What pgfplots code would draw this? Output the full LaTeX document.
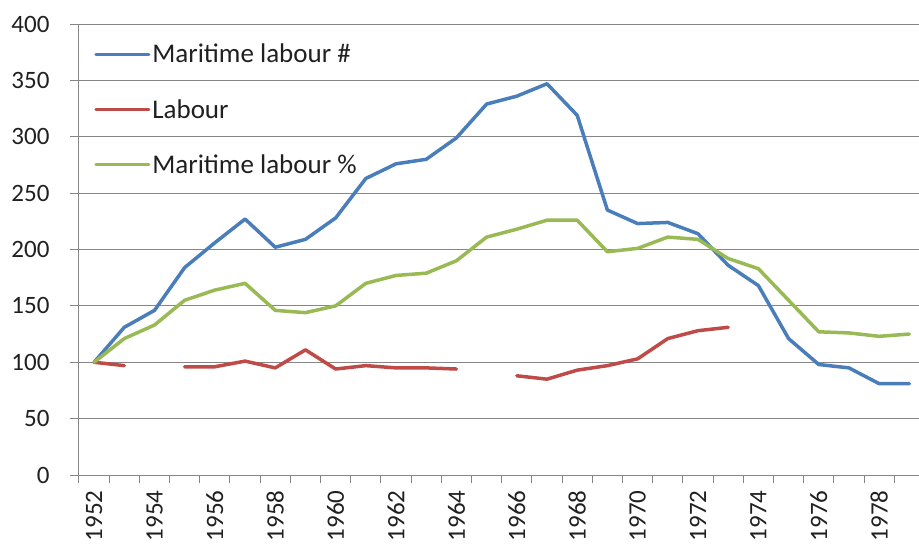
\documentclass[border=0pt]{standalone}
\usepackage{fontspec}
\setmainfont{Carlito}
\usepackage{pgfplots}
\pgfplotsset{compat=1.18}
\definecolor{cblue}{HTML}{4A7EBB}
\definecolor{cred}{HTML}{BE4B48}
\definecolor{cgreen}{HTML}{98B954}
\definecolor{cgrid}{HTML}{868686}
\definecolor{ctext}{HTML}{202020}
\begin{document}
\begin{tikzpicture}
\begin{axis}[
  at={(0,0)}, anchor=south west,
  scale only axis,
  width=840pt, height=451pt,
  xmin=1951.5, xmax=1979.32,
  ymin=0, ymax=400,
  clip=false,
  axis lines=left,
  axis line style={-, cgrid, line width=1pt},
  ytick={0,50,...,400},
  ymajorgrids,
  grid style={cgrid, line width=1pt},
  xtick={1952,1954,...,1978},
  minor xtick={1951.5,1952.5,...,1978.5},
  tick align=outside,
  major tick length=9pt,
  minor tick length=8pt,
  xtick style={draw=none},
  minor x tick style={cgrid, line width=1pt, draw=cgrid},
  ytick style={cgrid, line width=1pt},
  xminorgrids=false,
  /pgf/number format/assume math mode=true,
  /pgf/number format/1000 sep={},
  ticklabel style={font=\fontsize{25}{30}\selectfont, text=ctext},
  xticklabel style={rotate=90, anchor=east, xshift=-3pt},
  yticklabel style={xshift=-17pt},
  unbounded coords=jump,
  legend cell align=left,
  legend style={draw=none, fill=none, at={(rel axis cs:0.018,0.96)}, anchor=north west,
    font=\fontsize{27}{32}\selectfont, text=ctext, row sep=31pt, inner sep=0pt},
  legend image code/.code={\draw[#1, line width=3pt] (0pt,0pt) -- (53pt,0pt);},
  every axis plot/.append style={line width=3.5pt, line join=round, line cap=round, mark=none},
]
\addplot[cblue] coordinates {
(1952,100) (1953,131) (1954,146) (1955,184) (1956,206) (1957,227) (1958,202)
(1959,209) (1960,228) (1961,263) (1962,276) (1963,280) (1964,299) (1965,329)
(1966,336) (1967,347) (1968,319) (1969,235) (1970,223) (1971,224) (1972,214)
(1973,186) (1974,168) (1975,121) (1976,98) (1977,95) (1978,81) (1979,81)};
\addlegendentry{Maritime labour \#}
\addplot[cred] coordinates {
(1952,100) (1953,97) (1954,nan) (1955,96) (1956,96) (1957,101) (1958,95)
(1959,111) (1960,94) (1961,97) (1962,95) (1963,95) (1964,94) (1965,nan)
(1966,88) (1967,85) (1968,93) (1969,97) (1970,103) (1971,121) (1972,128) (1973,131)};
\addlegendentry{Labour}
\addplot[cgreen] coordinates {
(1952,100) (1953,121) (1954,133) (1955,155) (1956,164) (1957,170) (1958,146)
(1959,144) (1960,150) (1961,170) (1962,177) (1963,179) (1964,190) (1965,211)
(1966,218) (1967,226) (1968,226) (1969,198) (1970,201) (1971,211) (1972,209)
(1973,192) (1974,183) (1975,155) (1976,127) (1977,126) (1978,123) (1979,125)};
\addlegendentry{Maritime labour \%}
\end{axis}
\pgfresetboundingbox
\useasboundingbox (-79pt,-72pt) rectangle (840pt,475pt);
\end{tikzpicture}
\end{document}
